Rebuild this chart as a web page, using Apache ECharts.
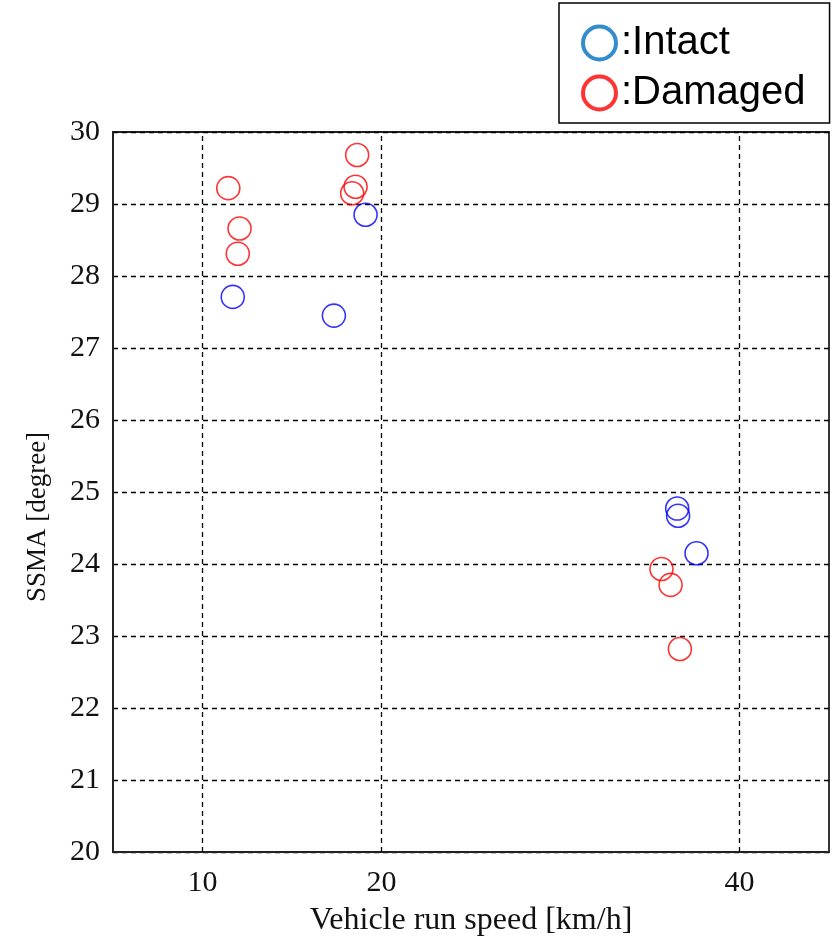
<!DOCTYPE html>
<html>
<head>
<meta charset="utf-8">
<script src="https://cdn.jsdelivr.net/npm/echarts@6/dist/echarts.min.js"></script>
<style>
html,body{margin:0;padding:0;background:#fff;}
#chart{width:834px;height:944px;}
</style>
</head>
<body>
<div id="chart"></div>
<script>
// ---- data ----
var intactSpeed = [11.69, 17.34, 19.11, 36.52, 36.57, 37.6];
var intactSSMA  = [27.71, 27.45, 28.85, 24.77, 24.67, 24.15];
var damagedSpeed = [11.44, 12.07, 11.97, 18.64, 18.55, 18.36, 35.64, 36.15, 36.67];
var damagedSSMA  = [29.22, 28.66, 28.31, 29.68, 29.24, 29.15, 23.93, 23.71, 22.82];
var xTicks = [10, 20, 40];
var yTicks = [20, 21, 22, 23, 24, 25, 26, 27, 28, 29, 30];
var seriesNames = ['Intact', 'Damaged'];
var xName = 'Vehicle run speed [km/h]';
var yName = 'SSMA [degree]';

function pairs(xs, ys) { return xs.map(function (x, i) { return [x, ys[i]]; }); }

var serif = '"Liberation Serif", "Times New Roman", serif';
var chart = echarts.init(document.getElementById('chart'), null, {renderer: 'canvas'});
chart.setOption({
  animation: false,
  backgroundColor: '#fff',
  grid: {left: 113, right: 5, top: 132, bottom: 92, show: true, borderColor: '#222', borderWidth: 1.8},
  legend: {
    orient: 'vertical', left: 559, top: 3,
    padding: [20, 24, 10, 22],
    itemGap: 10,
    borderColor: '#000', borderWidth: 1.5,
    icon: 'circle', itemWidth: 33, itemHeight: 33,
    formatter: function (n) { return ':' + n; },
    textStyle: {fontFamily: 'Arial, "Liberation Sans", sans-serif', fontSize: 40, color: '#000'},
    data: [
      {name: seriesNames[0], itemStyle: {color: 'transparent', borderColor: '#0070C0', borderWidth: 4}},
      {name: seriesNames[1], itemStyle: {color: 'transparent', borderColor: '#FF0000', borderWidth: 4}}
    ]
  },
  xAxis: {
    type: 'value', min: 5, max: 45, interval: 5,
    name: xName, nameLocation: 'middle', nameGap: 53,
    nameTextStyle: {fontFamily: serif, fontSize: 32, color: '#111'},
    axisLine: {show: true, onZero: false, lineStyle: {color: '#222', width: 1.8}},
    axisTick: {show: false},
    splitLine: {show: false},
    axisLabel: {
      margin: 16, fontFamily: serif, fontSize: 30, color: '#111',
      formatter: function (v) { return xTicks.indexOf(v) >= 0 ? String(v) : ''; }
    }
  },
  yAxis: {
    type: 'value', min: yTicks[0], max: yTicks[yTicks.length - 1], interval: 1,
    name: yName, nameLocation: 'middle', nameGap: 62,
    nameTextStyle: {fontFamily: serif, fontSize: 27, color: '#111', padding: [0, 50, 0, 0]},
    axisLine: {show: true, onZero: false, lineStyle: {color: '#222', width: 1.8}},
    axisTick: {show: false},
    splitLine: {show: true, lineStyle: {color: '#000', width: 1.3, type: [5, 4]}},
    axisLabel: {margin: 13, fontFamily: serif, fontSize: 30, color: '#111'}
  },
  series: [
    {
      name: seriesNames[0], type: 'scatter', symbol: 'circle', symbolSize: 23,
      itemStyle: {color: 'transparent', borderColor: '#0000ff', borderWidth: 1.6},
      data: pairs(intactSpeed, intactSSMA),
      markLine: {
        silent: true, symbol: 'none', label: {show: false},
        lineStyle: {color: '#000', width: 1.3, type: [5, 4]},
        data: xTicks.map(function (v) { return {xAxis: v}; })
      },
      z: 3
    },
    {
      name: seriesNames[1], type: 'scatter', symbol: 'circle', symbolSize: 23,
      itemStyle: {color: 'transparent', borderColor: '#ff0000', borderWidth: 1.6},
      data: pairs(damagedSpeed, damagedSSMA),
      z: 3
    }
  ]
});
</script>
</body>
</html>
